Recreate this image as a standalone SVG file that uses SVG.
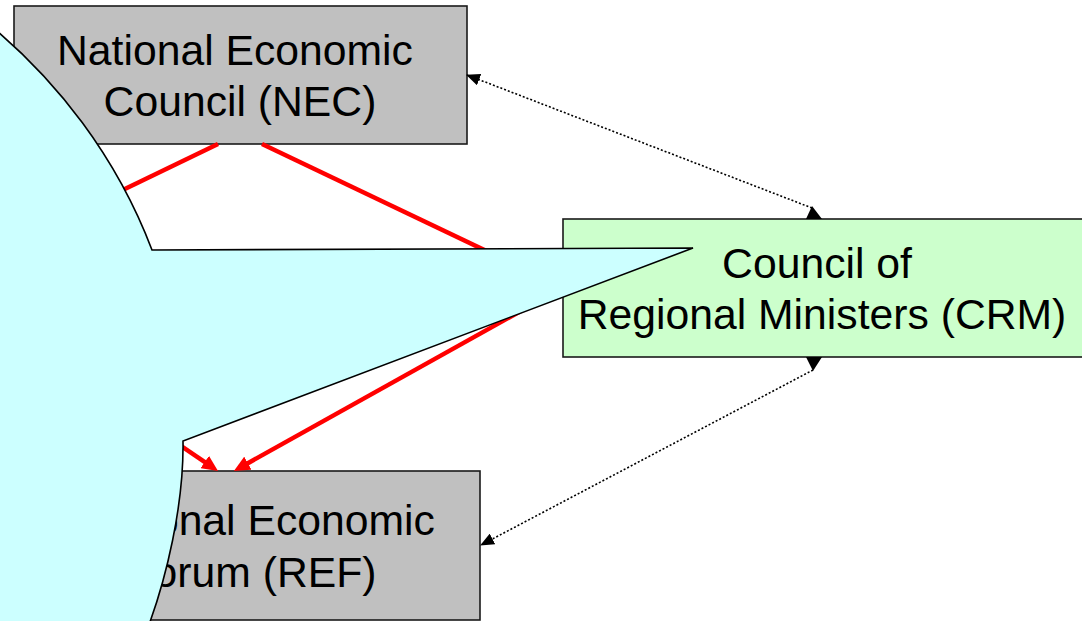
<svg xmlns="http://www.w3.org/2000/svg" width="1082" height="621" viewBox="0 0 1082 621">
<style>
  .box { stroke: #1a1a1a; stroke-width: 1.6; }
  .gray { fill: #C0C0C0; }
  .green { fill: #CCFFCC; }
  .lbl { font-family: "Liberation Sans", Arial, sans-serif; font-size: 42.7px; fill: #000; text-anchor: middle; }
  .dot { stroke: #000; stroke-width: 1.6; stroke-dasharray: 2 2; fill: none; }
  .red { stroke: #FF0000; stroke-width: 4.5; fill: none; }
  .callout { fill: #CCFFFF; stroke: #000; stroke-width: 1.6; stroke-linejoin: miter; }
</style>
<defs>
  <marker id="arrBlk" viewBox="0 0 14 12" refX="13" refY="6" markerWidth="14" markerHeight="12" markerUnits="userSpaceOnUse" orient="auto">
    <path d="M0,0 L14,6 L0,12 z" fill="#000"/>
  </marker>
  <marker id="arrRed" viewBox="0 0 16 15" refX="1" refY="7.5" markerWidth="16" markerHeight="15" markerUnits="userSpaceOnUse" orient="auto">
    <path d="M0,0 L16,7.5 L0,15 z" fill="#FF0000"/>
  </marker>
</defs>
<rect width="1082" height="621" fill="#fff"/>

<g id="nec">
  <rect class="box gray" x="14" y="6" width="453" height="138"/>
  <text class="lbl" x="235" y="65">National Economic</text>
  <text class="lbl" x="240" y="116">Council (NEC)</text>
</g>

<g id="crm">
  <rect class="box green" x="563" y="219" width="522" height="138"/>
  <text class="lbl" x="817" y="278">Council of</text>
  <text class="lbl" x="822" y="329">Regional Ministers (CRM)</text>
</g>

<g id="ref">
  <rect class="box gray" x="25" y="471" width="455" height="149"/>
  <text class="lbl" x="251" y="535">Regional Economic</text>
  <text class="lbl" x="252" y="587">Forum (REF)</text>
</g>

<g id="connectors">
  <path class="dot" d="M812,208 L467,75" marker-end="url(#arrBlk)"/>
  <polygon points="812,206 806,219 822,219" fill="#000"/>
  <path class="dot" d="M813,370 L481,545" marker-end="url(#arrBlk)"/>
  <polygon points="806,357 822,357 813,371" fill="#000"/>

  <path class="red" d="M218,144 L100,201"/>
  <path class="red" d="M262,144 L562,287"/>
  <path class="red" d="M562,288 L247,463.7" marker-end="url(#arrRed)"/>
  <path class="red" d="M137,416 L205.6,462.6" marker-end="url(#arrRed)"/>
</g>

<g id="callout">
  <path class="callout" d="M152,250 L693,248 L183,441 C184,505 166,580 147,630 L-20,630 L-20,17 A580,545 0 0 1 152,250 Z"/>
</g>
</svg>
